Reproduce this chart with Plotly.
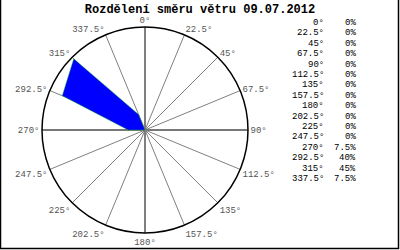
import plotly.graph_objects as go

directions = [0, 22.5, 45, 67.5, 90, 112.5, 135, 157.5, 180, 202.5, 225, 247.5, 270, 292.5, 315, 337.5]
dir_labels = ["0°", "22.5°", "45°", "67.5°", "90°", "112.5°", "135°", "157.5°", "180°",
              "202.5°", "225°", "247.5°", "270°", "292.5°", "315°", "337.5°"]
percents = [0, 0, 0, 0, 0, 0, 0, 0, 0, 0, 0, 0, 7.5, 40, 45, 7.5]
pct_labels = ["0%", "0%", "0%", "0%", "0%", "0%", "0%", "0%", "0%", "0%", "0%", "0%",
              "7.5%", "40%", "45%", "7.5%"]
major_spokes = [0, 90, 180, 270]
title_text = "Rozdělení směru větru 09.07.2012"
R_MAX = 46

fig = go.Figure()

# major spokes (darker, thicker)
for a in major_spokes:
    fig.add_trace(go.Scatterpolar(r=[0, R_MAX], theta=[a, a], mode="lines",
                                  line=dict(color="#787878", width=1.8),
                                  hoverinfo="skip", showlegend=False))

fig.add_trace(go.Scatterpolar(
    r=percents + [percents[0]], theta=directions + [directions[0]],
    mode="lines", fill="toself", fillcolor="#0000ff",
    line=dict(color="#00c800", width=0.4), showlegend=False))

fig.update_layout(
    width=400, height=250,
    margin=dict(l=0, r=0, t=0, b=0),
    paper_bgcolor="white",
    showlegend=False,
    title=dict(text="<b>" + title_text + "</b>", x=0.5, xanchor="center",
               y=1 - 8.5 / 250, yanchor="middle",
               font=dict(family="Liberation Mono", size=12, color="black")),
    polar=dict(
        domain=dict(x=[0.105, 0.62], y=[0.068, 0.892]),
        bgcolor="white",
        radialaxis=dict(range=[0, R_MAX], visible=False, showgrid=False),
        angularaxis=dict(
            direction="clockwise", rotation=90,
            tickmode="array", tickvals=directions, ticktext=dir_labels,
            showgrid=True, gridcolor="#808080", gridwidth=1,
            showline=True, linecolor="black", linewidth=1.5,
            ticks="", tickfont=dict(family="Liberation Mono", size=9, color="#555555"),
        ),
    ),
    shapes=[dict(type="path", xref="paper", yref="paper",
                 path="M 0.00125,1 L 0.00125,0.006 L 0.99625,0.006 L 0.99625,1",
                 line=dict(color="black", width=1.5))],
)

row0 = 23
step = 10.4
for i, (d, p) in enumerate(zip(dir_labels, pct_labels)):
    y = 1 - (row0 + i * step) / 250
    fig.add_annotation(x=326 / 400, y=y, xref="paper", yref="paper", text=d,
                       showarrow=False, xanchor="right", yanchor="middle",
                       font=dict(family="Liberation Mono", size=9, color="black"))
    fig.add_annotation(x=358 / 400, y=y, xref="paper", yref="paper", text=p,
                       showarrow=False, xanchor="right", yanchor="middle",
                       font=dict(family="Liberation Mono", size=9, color="black"))

fig.write_html("out.html")
